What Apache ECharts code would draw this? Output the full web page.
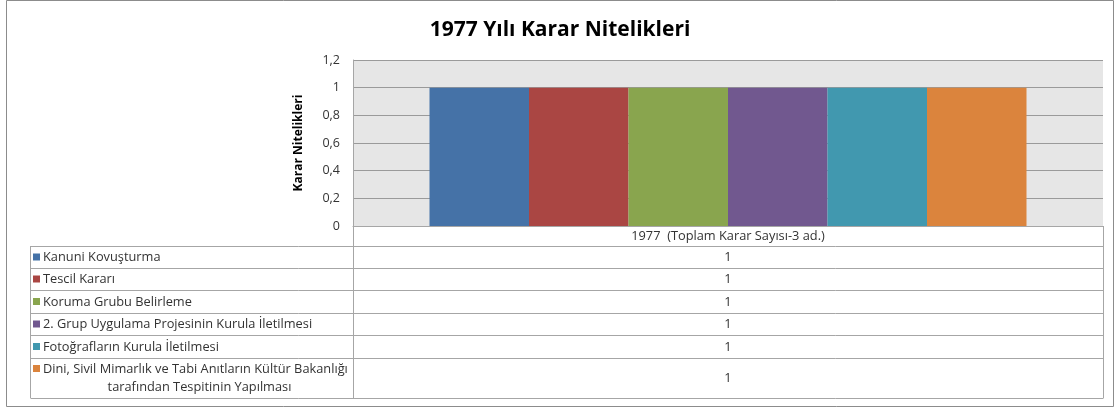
<!DOCTYPE html>
<html>
<head>
<meta charset="utf-8">
<script src="https://cdn.jsdelivr.net/npm/echarts@6/dist/echarts.min.js"></script>
<style>
  html, body { margin: 0; padding: 0; background: #fff; }
  #chart { width: 1120px; height: 412px; }
</style>
</head>
<body>
<div id="chart"></div>
<script>
// Chart data
const chartTitle = '1977 Yılı Karar Nitelikleri';
const yAxisTitle = 'Karar Nitelikleri';
const categories = ['1977  (Toplam Karar Sayısı-3 ad.)'];
const seriesNames = [
  'Kanuni Kovuşturma',
  'Tescil Kararı',
  'Koruma Grubu Belirleme',
  '2. Grup Uygulama Projesinin Kurula İletilmesi',
  'Fotoğrafların Kurula İletilmesi',
  'Dini, Sivil Mimarlık ve Tabi Anıtların Kültür Bakanlığı\ntarafından Tespitinin Yapılması'
];
const seriesValues = [
  [1],
  [1],
  [1],
  [1],
  [1],
  [1]
];
const yTicks = { min: 0, max: 1.2, interval: 0.2 };
const colors = ['#4572A7', '#AA4643', '#89A54E', '#71588F', '#4198AF', '#DB843D'];

const FONT = 'Open Sans';
const TEXT = '#333333';
const LINE = '#a6a6a6';

// Plot area and data table layout
const W = 1120, H = 412;
const plot = { left: 353, right: 1103, top: 60, bottom: 226 };
const tableLeft = 30;
const headerH = 20;
const rowHeights = [22, 22, 23, 22, 23, 40];

const chart = echarts.init(document.getElementById('chart'), null, { renderer: 'canvas' });

const series = seriesNames.map((name, i) => ({
  name: name,
  type: 'bar',
  data: seriesValues[i],
  barGap: '0%',
  barCategoryGap: '20.4%',
  itemStyle: { color: colors[i] },
  silent: true
}));

function fmt(v) {
  return String(Math.round(v * 10) / 10).replace('.', ',');
}

// Data table below the plot, drawn from the same series arrays
function buildTable() {
  const g = [];
  const fontStr = '12.8px "' + FONT + '"';
  const headerTop = plot.bottom;
  const bodyTop = headerTop + headerH;
  let y = bodyTop;
  const rowTops = [];
  rowHeights.forEach(h => { rowTops.push(y); y += h; });
  const tableBottom = y;

  const line = (x1, y1, x2, y2) => ({
    type: 'line', silent: true,
    shape: { x1: x1, y1: y1, x2: x2, y2: y2 },
    style: { stroke: LINE, lineWidth: 1 }
  });

  // header row box (only over the value column)
  g.push(line(plot.right + 0.5, headerTop, plot.right + 0.5, tableBottom));
  g.push(line(plot.left + 0.5, headerTop, plot.left + 0.5, tableBottom));
  g.push(line(tableLeft + 0.5, bodyTop + 0.5, plot.right + 0.5, bodyTop + 0.5));
  g.push(line(tableLeft + 0.5, bodyTop, tableLeft + 0.5, tableBottom));
  rowTops.forEach((t, i) => {
    const b = t + rowHeights[i];
    g.push(line(tableLeft + 0.5, b + 0.5, plot.right + 0.5, b + 0.5));
  });

  const colCenter = (plot.left + plot.right) / 2;
  const nameCenter = (tableLeft + plot.left) / 2;
  seriesNames.forEach((name, i) => {
    const t = rowTops[i], h = rowHeights[i];
    const lines = name.split('\n');
    const keyX = tableLeft + 3;
    if (lines.length === 1) {
      const cy = t + h / 2 + 0.5;
      g.push({ type: 'rect', silent: true, shape: { x: keyX, y: cy - 4, width: 7, height: 7 }, style: { fill: colors[i] } });
      g.push({ type: 'text', silent: true, style: { x: keyX + 10, y: cy, text: lines[0], font: fontStr, fill: TEXT, verticalAlign: 'middle', align: 'left' } });
    } else {
      const cy1 = t + 11;
      const cy2 = t + 29;
      g.push({ type: 'rect', silent: true, shape: { x: keyX, y: cy1 - 4, width: 7, height: 7 }, style: { fill: colors[i] } });
      g.push({ type: 'text', silent: true, style: { x: keyX + 10, y: cy1, text: lines[0], font: fontStr, fill: TEXT, verticalAlign: 'middle', align: 'left' } });
      g.push({ type: 'text', silent: true, style: { x: nameCenter + 8, y: cy2, text: lines[1], font: fontStr, fill: TEXT, verticalAlign: 'middle', align: 'center' } });
    }
    g.push({ type: 'text', silent: true, style: { x: colCenter, y: t + h / 2 + 0.5, text: String(seriesValues[i][0]), font: fontStr, fill: TEXT, verticalAlign: 'middle', align: 'center' } });
  });

  // outer chart border
  g.push({ type: 'rect', silent: true, shape: { x: 6.5, y: 0.5, width: 1107, height: 406 }, style: { fill: null, stroke: '#8c8c8c', lineWidth: 1 } });
  return g;
}

chart.setOption({
  animation: false,
  backgroundColor: '#ffffff',
  title: {
    text: chartTitle,
    left: 'center',
    top: 15,
    textStyle: { fontFamily: FONT, fontSize: 21, fontWeight: 'bold', color: '#000' }
  },
  grid: {
    left: plot.left, right: W - plot.right, top: plot.top, bottom: H - plot.bottom,
    show: true, backgroundColor: '#e6e6e6', borderWidth: 0
  },
  xAxis: {
    type: 'category',
    data: categories,
    axisLine: { show: true, lineStyle: { color: LINE } },
    axisTick: { show: false },
    axisLabel: { fontFamily: FONT, fontSize: 12.8, color: TEXT, margin: 4 }
  },
  yAxis: {
    type: 'value',
    min: yTicks.min, max: yTicks.max, interval: yTicks.interval,
    name: yAxisTitle,
    nameLocation: 'middle',
    nameGap: 48,
    nameTextStyle: { fontFamily: FONT, fontSize: 12, fontWeight: 'bold', color: '#000' },
    axisLine: { show: true, lineStyle: { color: LINE } },
    axisTick: { show: false },
    axisLabel: { fontFamily: FONT, fontSize: 12.5, color: TEXT, margin: 13, formatter: fmt },
    splitLine: { lineStyle: { color: '#9a9a9a', width: 1 } }
  },
  series: series,
  graphic: buildTable()
});
</script>
</body>
</html>
